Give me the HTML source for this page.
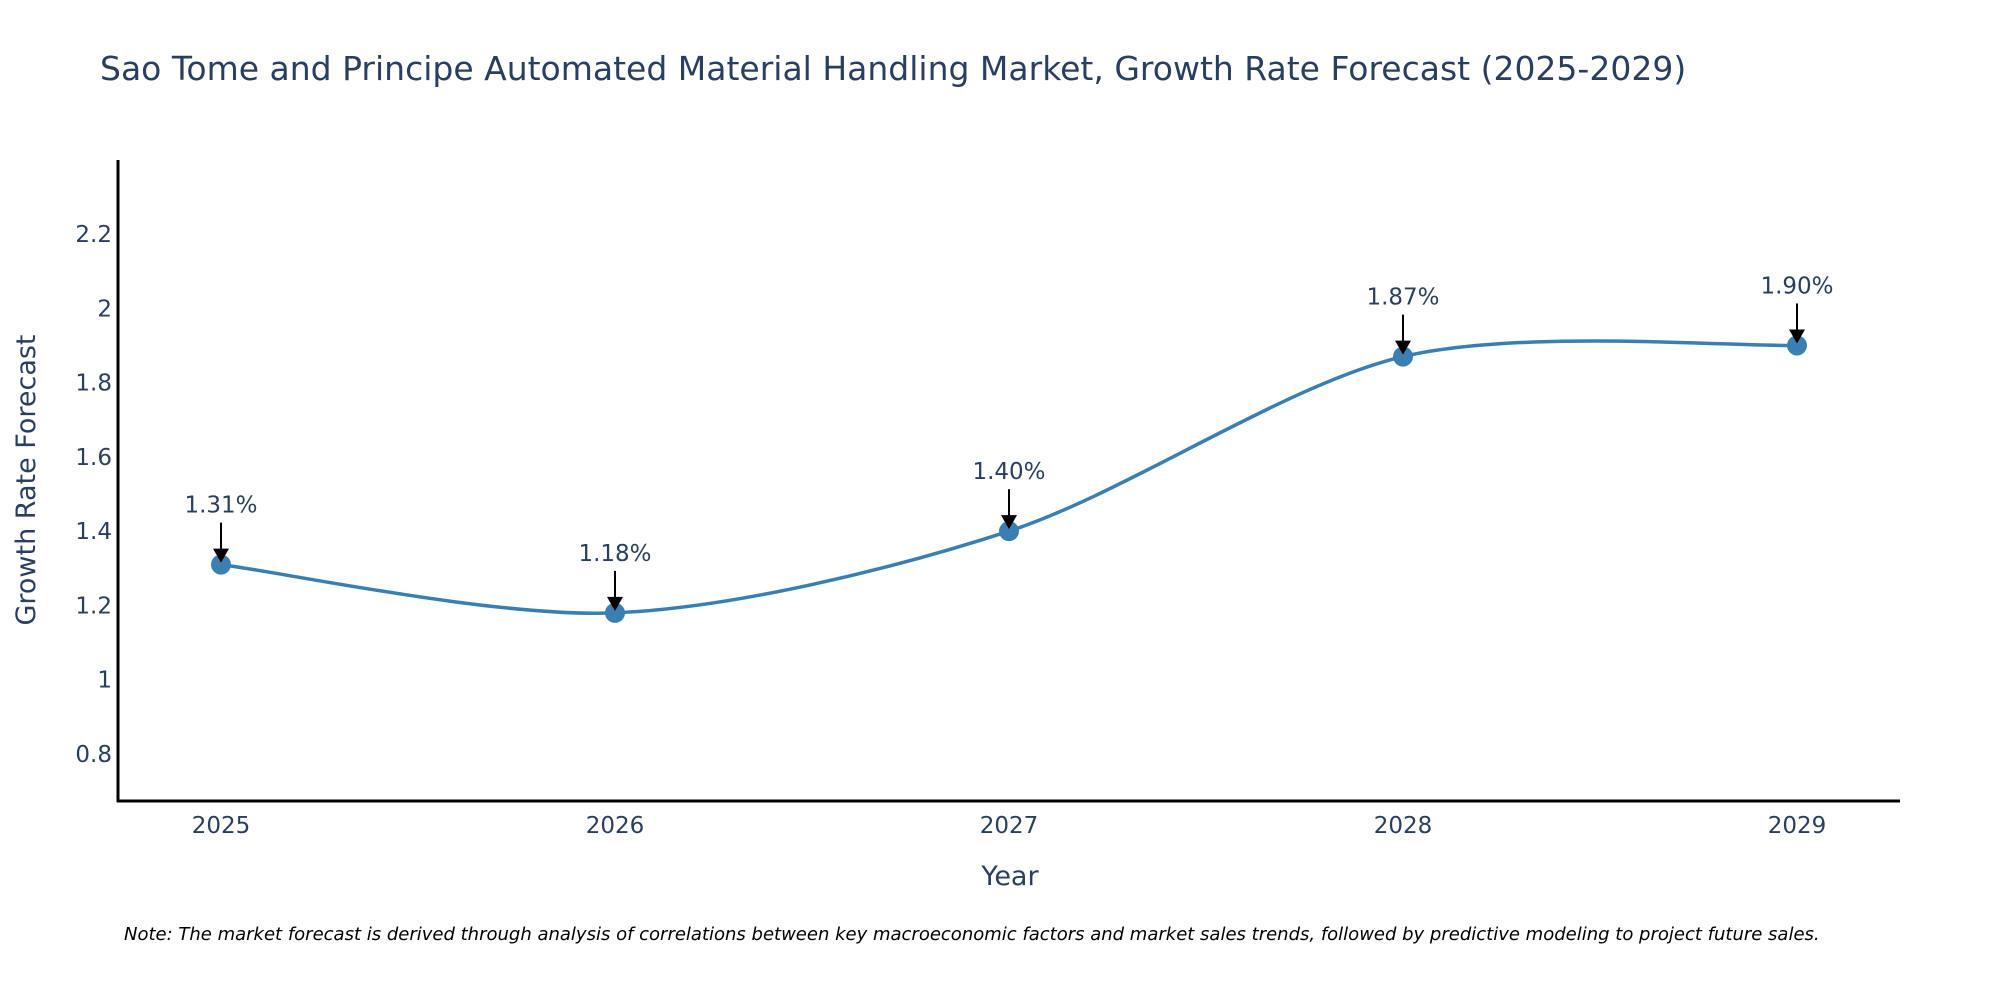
<!DOCTYPE html>
<html><head><meta charset="utf-8">
<style>
html,body{margin:0;padding:0;background:#fff;overflow:hidden;}
svg{display:block;font-family:"DejaVu Sans","Liberation Sans",sans-serif;}
</style></head>
<body>
<svg id="chart" width="2000" height="1000" viewBox="0 0 2000 1000" xmlns="http://www.w3.org/2000/svg">
<text x="100" y="80" font-size="33" fill="#2a3f5f">Sao Tome and Principe Automated Material Handling Market, Growth Rate Forecast (2025-2029)</text>
<g id="yticks"></g>
<g id="xticks"></g>
<line x1="118" y1="160" x2="118" y2="802" stroke="#000" stroke-width="3"/>
<line x1="117" y1="801" x2="1900" y2="801" stroke="#000" stroke-width="3"/>
<text transform="translate(35,480) rotate(-90)" text-anchor="middle" font-size="27" fill="#2a3f5f">Growth Rate Forecast</text>
<text x="1010" y="885" text-anchor="middle" font-size="27" fill="#2a3f5f">Year</text>
<g id="series"></g>
<g id="annots"></g>
<text x="124" y="940" font-size="18" font-style="italic" fill="#000">Note: The market forecast is derived through analysis of correlations between key macroeconomic factors and market sales trends, followed by predictive modeling to project future sales.</text>
</svg>
<script>
const categories = ["2025","2026","2027","2028","2029"];
const values = [1.31, 1.18, 1.40, 1.87, 1.90];
const valueLabels = ["1.31%","1.18%","1.40%","1.87%","1.90%"];
const yTicks = [0.8, 1, 1.2, 1.4, 1.6, 1.8, 2, 2.2];
const yTickLabels = ["0.8","1","1.2","1.4","1.6","1.8","2","2.2"];

const NS = "http://www.w3.org/2000/svg";
function yScale(v){ return 754 - (v - 0.8) * 371.4; }
function xScale(i){ return 221 + i * 394; }
function mk(tag, attrs, parent){ const e=document.createElementNS(NS,tag); for(const k in attrs) e.setAttribute(k,attrs[k]); parent.appendChild(e); return e; }

const yg=document.getElementById('yticks');
yTicks.forEach((t,i)=>{
  const el=mk('text',{x:112,y:yScale(t)+8,'text-anchor':'end','font-size':23,fill:'#2a3f5f'},yg);
  
  
  el.textContent=yTickLabels[i];
});
const xg=document.getElementById('xticks');
categories.forEach((c,i)=>{
  const el=mk('text',{x:xScale(i),y:833,'text-anchor':'middle','font-size':23,fill:'#2a3f5f'},xg);
  
  
  el.textContent=c;
});

const pts=values.map((v,i)=>[xScale(i),yScale(v)]);
let d='M'+pts[0][0]+','+pts[0][1];
const tension=0.9/3;
for(let i=0;i<pts.length-1;i++){
  const p0=pts[Math.max(0,i-1)],p1=pts[i],p2=pts[i+1],p3=pts[Math.min(pts.length-1,i+2)];
  const c1=[p1[0]+(p2[0]-p0[0])*tension*0.5,p1[1]+(p2[1]-p0[1])*tension*0.5];
  const c2=[p2[0]-(p3[0]-p1[0])*tension*0.5,p2[1]-(p3[1]-p1[1])*tension*0.5];
  d+=' C'+c1[0]+','+c1[1]+' '+c2[0]+','+c2[1]+' '+p2[0]+','+p2[1];
}
const sg=document.getElementById('series');
const line=mk('path',{d:d,fill:'none',stroke:'#3a7fb2','stroke-width':3.5},sg);


pts.forEach(p=>{
  const c=mk('circle',{cx:p[0],cy:p[1],r:10,fill:'#3a7fb2'},sg);
  
  
});

const ag=document.getElementById('annots');
pts.forEach((p,i)=>{
  const t=mk('text',{x:p[0],y:p[1]-52,'text-anchor':'middle','font-size':23,fill:'#2a3f5f'},ag);
  
  
  t.textContent=valueLabels[i];
  const l=mk('line',{x1:p[0],y1:p[1]-42,x2:p[0],y2:p[1]-12,stroke:'#000','stroke-width':2},ag);
  
  
  const h=mk('polygon',{points:(p[0]-8)+','+(p[1]-16)+' '+(p[0]+8)+','+(p[1]-16)+' '+p[0]+','+(p[1]-2),fill:'#000'},ag);
  
  
});
</script>
</body></html>
